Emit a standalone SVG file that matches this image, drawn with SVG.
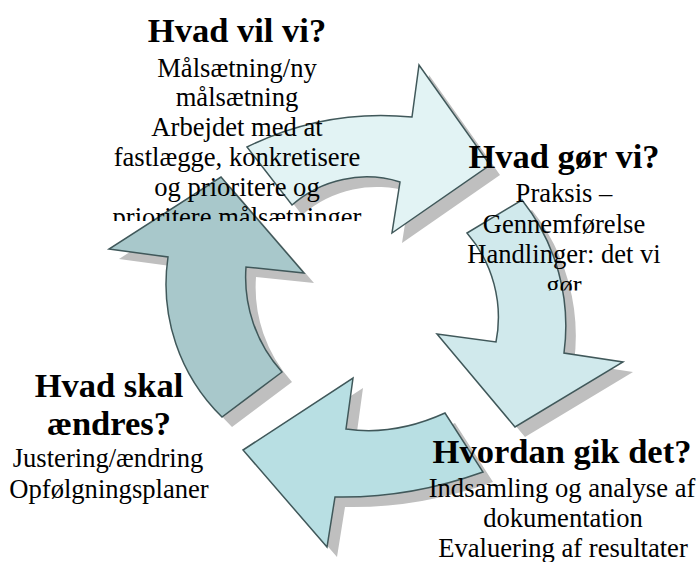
<svg xmlns="http://www.w3.org/2000/svg" xmlns:xlink="http://www.w3.org/1999/xlink" width="697" height="562" viewBox="0 0 697 562">
<style>
.arrow{stroke:#40585a;stroke-width:1.5;stroke-linejoin:miter}
.shadow{fill:#bfbfbf;stroke:none}
.t{font-family:"Liberation Serif","Times New Roman",serif;fill:#000;text-anchor:middle}
.h{font-size:34.5px;font-weight:bold}
.b{font-size:26.6px}
</style>
<defs>
<path id="a1" d="M247,147 A305.6,305.6 0 0 1 412,117 L419,65 L490,165 L392,233 L400,182 A113,113 0 0 0 292,205 Z"/>
<path id="a2" d="M522,200 A203,203 0 0 1 564,353 L623,362 L515,427 L437,334 L496,342 A129,129 0 0 0 467,233 Z"/>
<path id="a3" d="M483,472 Q409,498.5 335,497 L327,547 L243,450 L353,378 L346,429 Q394.5,436 445,413 Z"/>
<path id="a4" d="M222,417 A186,186 0 0 1 168,257 L109,249 L221,177 L304,273 L246,267 A141.5,141.5 0 0 0 282,372 Z"/>
<clipPath id="c1"><rect x="0" y="0" width="697" height="221"/></clipPath>
<clipPath id="c2"><rect x="0" y="0" width="697" height="290.5"/></clipPath>
</defs>
<rect width="697" height="562" fill="#ffffff"/>
<g id="connectors">
<use xlink:href="#a1" class="shadow" transform="translate(10,10)"/>
<use xlink:href="#a2" class="shadow" transform="translate(10,10)"/>
<use xlink:href="#a3" class="shadow" transform="translate(10,10)"/>
<use xlink:href="#a4" class="shadow" transform="translate(10,10)"/>
<use xlink:href="#a1" class="arrow" fill="#e2f3f4"/>
<use xlink:href="#a2" class="arrow" fill="#d0e9ec"/>
<use xlink:href="#a3" class="arrow" fill="#b8dfe3"/>
<use xlink:href="#a4" class="arrow" fill="#a8c8cb"/>
</g>
<g id="node-hvad-vil-vi" class="t">
<text x="237" y="42" class="h">Hvad vil vi?</text>
<g clip-path="url(#c1)">
<text x="237" y="76.5" class="b">Målsætning/ny</text>
<text x="237" y="106" class="b">målsætning</text>
<text x="237" y="136" class="b">Arbejdet med at</text>
<text x="237" y="166" class="b">fastlægge, konkretisere</text>
<text x="237" y="196" class="b">og prioritere og</text>
<text x="237" y="226" class="b">prioritere målsætninger</text>
</g>
</g>
<g id="node-hvad-goer-vi" class="t">
<text x="564" y="168" class="h">Hvad gør vi?</text>
<g clip-path="url(#c2)">
<text x="564" y="202" class="b">Praksis –</text>
<text x="564" y="233" class="b">Gennemførelse</text>
<text x="564" y="263" class="b">Handlinger: det vi</text>
<text x="564" y="294" class="b">gør</text>
</g>
</g>
<g id="node-hvordan-gik-det" class="t">
<text x="562" y="463" class="h">Hvordan gik det?</text>
<text x="562" y="496.5" class="b">Indsamling og analyse af</text>
<text x="563" y="527" class="b">dokumentation</text>
<text x="563" y="557" class="b">Evaluering af resultater</text>
</g>
<g id="node-hvad-skal-aendres" class="t">
<text x="109" y="397" class="h">Hvad skal</text>
<text x="109" y="435" class="h">ændres?</text>
<text x="108" y="467" class="b">Justering/ændring</text>
<text x="109" y="498" class="b">Opfølgningsplaner</text>
</g>
</svg>
